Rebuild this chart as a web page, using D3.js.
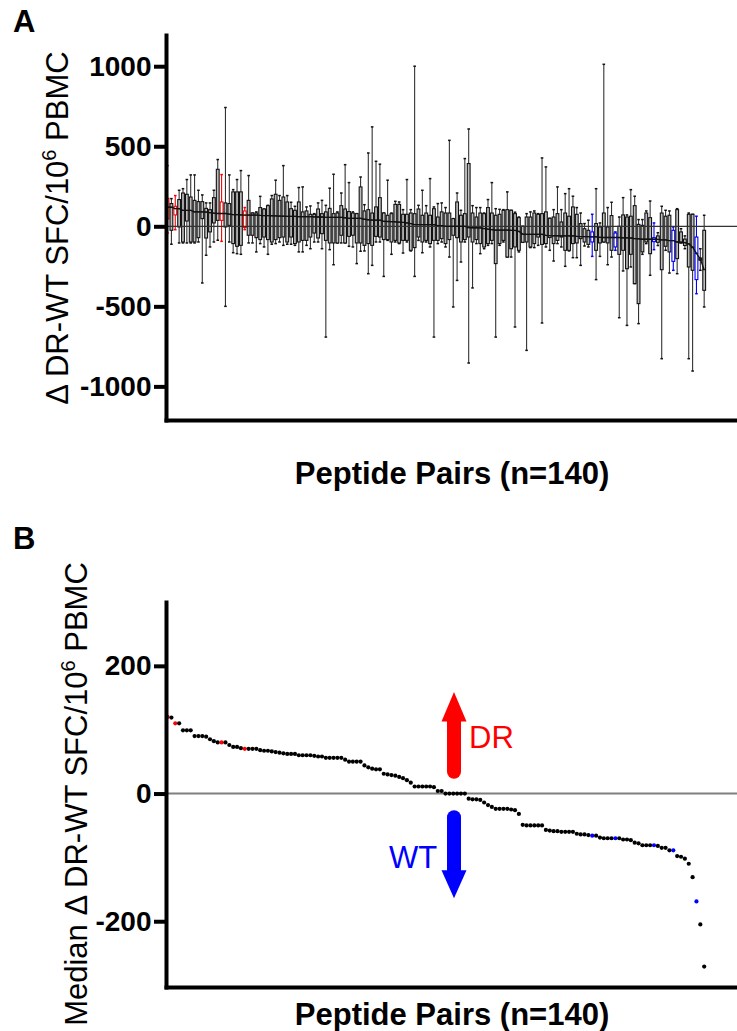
<!DOCTYPE html>
<html>
<head>
<meta charset="utf-8">
<script src="https://cdn.jsdelivr.net/npm/d3@7"></script>
<style>
body { margin: 0; background: #fff; }
svg { display: block; font-family: "Liberation Sans", Arial, sans-serif; }
</style>
</head>
<body>
<div id="chart"></div>
<script>
// medians of the 140 peptide pairs (sorted, as in panel B)
var medians = [120,119,110,110,99,99,99,90,90,90,89,85,82,80,80,80,76,73,73,71,
  70,70,70,70,68,67,67,66,65,64,63,62,62,62,60,60,60,60,59,58,
  58,56,56,56,56,56,53,50,50,50,50,44,41,39,38,38,31,30,29,28,
  26,24,21,17,11,11,11,11,11,10,4,4,0,0,0,0,0,0,-8,-9,
  -9,-10,-14,-18,-21,-24,-24,-24,-24,-25,-26,-32,-49,-50,-50,-50,-50,-50,-57,-58,
  -59,-59,-60,-60,-60,-60,-63,-64,-64,-65,-66,-66,-69,-70,-70,-70,-70,-70,-72,-72,
  -73,-77,-78,-81,-81,-81,-81,-82,-85,-85,-89,-89,-98,-99,-102,-110,-131,-169,-205,-271];

var q3 = [175,142,125,167,208,200,183,162,154,154,112,104,179,356,152,146,142,215,215,215,
  96,162,83,83,117,108,129,171,200,162,183,152,110,100,152,90,96,75,75,108,
  79,90,112,79,83,129,108,92,83,79,246,96,104,83,121,179,83,69,79,137,
  137,75,75,83,79,108,69,83,69,110,58,90,83,83,48,152,69,79,392,83,
  58,83,79,117,83,69,75,100,104,100,79,54,0,58,58,83,75,79,90,50,
  58,79,27,83,63,121,75,17,-15,-25,-35,17,-4,83,-4,67,-42,0,71,58,
  63,129,12,6,83,54,-71,-60,83,63,69,-25,104,-35,-80,75,75,-67,-198,-25];

var q1 = [46,-25,71,-4,-98,33,-98,-98,-71,48,-73,-35,21,37,37,-4,6,-108,-125,-119,
  -8,-56,-56,-71,-83,-67,-83,-98,-83,-71,-67,-98,-67,-108,-98,-88,-88,-67,-42,-73,
  -46,-88,-104,-104,-104,-56,-104,-63,-56,-104,-104,-119,-108,-119,-63,-67,-83,-83,-98,-88,
  -104,-88,-88,-150,-133,-67,-98,-88,-108,-88,-88,-77,-108,-83,-56,-71,-98,-83,-67,-98,
  -83,-108,-129,-108,-88,-233,-108,-88,-192,-140,-129,-150,-100,-98,-129,-108,-67,-113,-108,-70,
  -108,-88,-67,-150,-150,-108,-104,-77,-98,-113,-98,-150,-104,-98,-104,-150,-129,-175,-150,-265,
  -175,-358,-483,-160,-98,-171,-96,-100,-271,-125,-160,-219,-202,-104,-120,-254,-275,-333,-212,-400];

var hi = [379,173,192,225,235,292,321,321,225,196,146,146,225,417,323,742,321,229,292,348,
  117,317,83,90,187,108,131,192,288,192,379,192,150,125,242,246,121,127,79,146,
  162,131,238,325,90,208,385,273,90,79,308,135,458,621,406,388,83,288,83,156,
  152,104,292,104,1000,131,225,129,298,121,142,146,117,537,48,208,100,423,608,129,
  117,117,83,167,273,110,106,104,215,100,88,58,0,79,90,96,79,427,371,50,
  104,246,104,204,235,188,117,83,17,38,75,235,21,1012,117,150,-35,58,179,71,
  229,188,42,42,96,158,21,-40,125,100,96,-4,110,-15,-60,83,75,63,-140,69];

var lo = [-42,-112,-21,-104,-104,-104,-104,-104,-98,-354,-181,-129,-98,-87,-94,-500,-98,-165,-171,-175,
  -21,-104,-104,-160,-108,-129,-175,-112,-108,-98,-119,-112,-112,-119,-160,-160,-119,-140,-98,-98,
  -140,-692,-146,-240,-104,-104,-104,-125,-129,-233,-156,-154,-296,-244,-98,-98,-313,-88,-175,-98,
  -108,-167,-98,-154,-313,-88,-165,-98,-129,-692,-108,-98,-129,-192,-504,-338,-223,-98,-854,-385,
  -108,-171,-140,-119,-108,-692,-119,-98,-192,-192,-629,-160,-100,-775,-133,-133,-119,-604,-129,-150,
  -217,-108,-129,-250,-154,-196,-196,-244,-123,-129,-188,-333,-188,-98,-240,-192,-150,-571,-279,-619,
  -254,-358,-608,-175,-108,-306,-146,-120,-827,-150,-292,-275,-296,-104,-140,-827,-904,-421,-275,-504];

// pairs highlighted in colour
var drPairs = [0, 2, 14, 20];
var wtPairs = [110, 116, 126, 131, 137];

var ticksA = [-1000, -500, 0, 500, 1000];
var ticksB = [-200, 0, 200];

// arrow annotations (value units): tip, head base, tail
var upArrow = {pair: 74.2, tip: 159, base: 113, tail: 34};
var downArrow = {pair: 74.2, tip: -164, base: -120, tail: -37};

var W = 737, H = 1031;
var svg = d3.select("#chart").append("svg")
    .attr("width", W).attr("height", H);

var pairs = d3.range(medians.length);
var rows = pairs.map(function(i) {
  return {i: i, med: medians[i], q1: q1[i], q3: q3[i], lo: lo[i], hi: hi[i],
    col: drPairs.indexOf(i) >= 0 ? "#ff0000" : (wtPairs.indexOf(i) >= 0 ? "#0000ff" : null)};
});

var x = d3.scaleLinear().domain([-0.4, 147.5]).range([166, 737]);
var yA = d3.scaleLinear().domain([-1210, 1195]).range([420, 35]);
var yB = d3.scaleLinear().domain([-303, 300]).range([987, 602]);

var fmt = function(d) { return String(d); };

function styleAxis(g) {
  g.select(".domain").attr("stroke", "#000").attr("stroke-width", 4).attr("stroke-linecap", "square");
  g.selectAll(".tick line").attr("stroke", "#000").attr("stroke-width", 4);
  g.selectAll(".tick text").attr("font-size", 28).attr("font-weight", "bold").attr("fill", "#000")
    .attr("font-family", "Liberation Sans, Arial, sans-serif");
}

function yTitle(g, xpos, ymid, prefix) {
  var t = g.append("text")
    .attr("transform", "translate(" + xpos + "," + ymid + ") rotate(-90)")
    .attr("text-anchor", "middle")
    .attr("font-size", 31)
    .attr("fill", "#000");
  t.append("tspan").text(prefix + "\u0394 DR-WT SFC/10");
  t.append("tspan").attr("font-size", 20).attr("dy", -12).text("6");
  t.append("tspan").attr("dy", 12).text(" PBMC");
}

// ---------- panel A ----------
var gA = svg.append("g");

gA.append("text").attr("x", 13).attr("y", 32).attr("font-size", 31)
  .attr("font-weight", "bold").text("A");

// whiskers
gA.selectAll(".whisker").data(rows).enter().append("line")
  .attr("x1", function(d) { return x(d.i); })
  .attr("x2", function(d) { return x(d.i); })
  .attr("y1", function(d) { return yA(d.hi); })
  .attr("y2", function(d) { return yA(d.lo); })
  .attr("stroke", function(d) { return d.col || "#333"; })
  .attr("stroke-width", 1.1);

// caps
["hi", "lo"].forEach(function(k) {
  gA.selectAll(".cap-" + k).data(rows).enter().append("line")
    .attr("x1", function(d) { return x(d.i) - 1.3; })
    .attr("x2", function(d) { return x(d.i) + 1.3; })
    .attr("y1", function(d) { return yA(d[k]); })
    .attr("y2", function(d) { return yA(d[k]); })
    .attr("stroke", function(d) { return d.col || "#111"; })
    .attr("stroke-width", 1.5);
});

// boxes
gA.selectAll(".box").data(rows).enter().append("rect")
  .attr("x", function(d) { return x(d.i) - 1.4; })
  .attr("width", 2.8)
  .attr("y", function(d) { return yA(d.q3); })
  .attr("height", function(d) { return Math.max(1, yA(d.q1) - yA(d.q3)); })
  .attr("fill", function(d) { return d.col ? "#fff" : "#bdbdbd"; })
  .attr("stroke", function(d) { return d.col || "#111"; })
  .attr("stroke-width", 1.1);

// median ticks
gA.selectAll(".med").data(rows).enter().append("line")
  .attr("x1", function(d) { return x(d.i) - 1.7; })
  .attr("x2", function(d) { return x(d.i) + 1.7; })
  .attr("y1", function(d) { return yA(d.med); })
  .attr("y2", function(d) { return yA(d.med); })
  .attr("stroke", function(d) { return d.col || "#111"; })
  .attr("stroke-width", 1.1);

// zero line
gA.append("line").attr("x1", x.range()[0]).attr("x2", x.range()[1])
  .attr("y1", yA(0)).attr("y2", yA(0))
  .attr("stroke", "#333").attr("stroke-width", 1.2);

// line through the medians
gA.append("path").datum(rows)
  .attr("d", d3.line().x(function(d) { return x(d.i); }).y(function(d) { return yA(d.med); }))
  .attr("fill", "none").attr("stroke", "#111").attr("stroke-width", 1.3);

var axA = gA.append("g").attr("transform", "translate(166,0)")
  .call(d3.axisLeft(yA).tickValues(ticksA).tickFormat(fmt).tickSize(12).tickPadding(2.5).tickSizeOuter(0));
styleAxis(axA);
var axAx = gA.append("g").attr("transform", "translate(0,420)")
  .call(d3.axisBottom(x).tickValues([]).tickSizeOuter(0));
styleAxis(axAx);

yTitle(gA, 68, 228, "");
gA.append("text").attr("x", 452).attr("y", 484).attr("text-anchor", "middle")
  .attr("font-size", 31).attr("font-weight", "bold").text("Peptide Pairs (n=140)");

// ---------- panel B ----------
var gB = svg.append("g");

gB.append("text").attr("x", 13).attr("y", 549).attr("font-size", 31)
  .attr("font-weight", "bold").text("B");

gB.append("line").attr("x1", x.range()[0]).attr("x2", x.range()[1])
  .attr("y1", yB(0)).attr("y2", yB(0))
  .attr("stroke", "#7f7f7f").attr("stroke-width", 2);

gB.selectAll(".dot").data(rows).enter().append("circle")
  .attr("cx", function(d) { return x(d.i); })
  .attr("cy", function(d) { return yB(d.med); })
  .attr("r", 2.1)
  .attr("fill", function(d) { return d.col || "#000"; });

function arrow(a, color) {
  var cx = x(a.pair);
  gB.append("line").attr("x1", cx).attr("x2", cx)
    .attr("y1", yB(a.base)).attr("y2", yB(a.tail))
    .attr("stroke", color).attr("stroke-width", 14).attr("stroke-linecap", "round");
  gB.append("path")
    .attr("d", "M" + (cx - 12.5) + "," + yB(a.base) + "L" + (cx + 12.5) + "," + yB(a.base) +
      "L" + cx + "," + yB(a.tip) + "Z")
    .attr("fill", color);
}
arrow(upArrow, "#ff0000");
arrow(downArrow, "#0000ff");

function a2p(px) { return x.invert(px); }
gB.append("text").attr("x", x(a2p(469))).attr("y", yB(71)).attr("font-size", 31)
  .attr("fill", "#ff0000").text("DR");
gB.append("text").attr("x", x(a2p(389))).attr("y", yB(-117)).attr("font-size", 31)
  .attr("fill", "#0000ff").text("WT");

var axB = gB.append("g").attr("transform", "translate(166,0)")
  .call(d3.axisLeft(yB).tickValues(ticksB).tickFormat(fmt).tickSize(12).tickPadding(2.5).tickSizeOuter(0));
styleAxis(axB);
var axBx = gB.append("g").attr("transform", "translate(0,987)")
  .call(d3.axisBottom(x).tickValues([]).tickSizeOuter(0));
styleAxis(axBx);

yTitle(gB, 87, 794, "Median ");
gB.append("text").attr("x", 452).attr("y", 1025).attr("text-anchor", "middle")
  .attr("font-size", 31).attr("font-weight", "bold").text("Peptide Pairs (n=140)");
</script>
</body>
</html>
